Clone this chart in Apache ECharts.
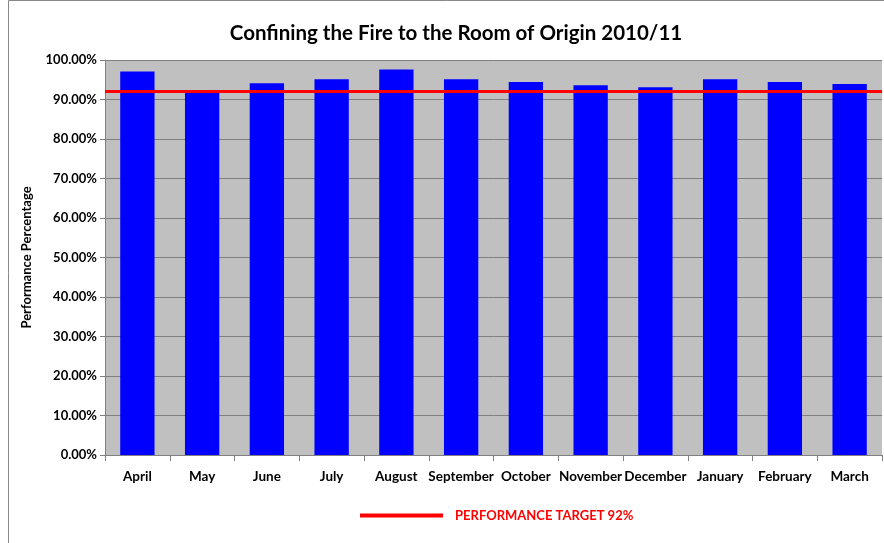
<!DOCTYPE html>
<html><head><meta charset="utf-8">
<script src="https://cdn.jsdelivr.net/npm/echarts@6/dist/echarts.min.js"></script>
<style>html,body{margin:0;padding:0;background:#fff}#c{width:884px;height:543px}</style>
</head><body><div id="c"></div>
<script>
const categories = ['April','May','June','July','August','September','October','November','December','January','February','March'];
const performance = [97.1, 91.8, 94.1, 95.1, 97.6, 95.1, 94.4, 93.6, 93.1, 95.1, 94.4, 93.9];
const targetValue = 92;
const targetName = 'PERFORMANCE TARGET 92%';
const yTicks = [0,10,20,30,40,50,60,70,80,90,100];

const FONT = 'Lato';
const chart = echarts.init(document.getElementById('c'));
chart.setOption({
  animation: false,
  backgroundColor: '#fff',
  title: {
    text: 'Confining the Fire to the Room of Origin 2010/11',
    left: 451, top: 18, textAlign: 'center',
    textStyle: {fontFamily: FONT, fontWeight: 'bold', fontSize: 20.5, color: '#000'}
  },
  graphic: [{
    type: 'rect', shape: {x: 8.5, y: 0.5, width: 890, height: 560},
    style: {fill: 'none', stroke: '#888', lineWidth: 1}, silent: true
  }],
  legend: {
    data: [{name: targetName, icon: 'rect'}],
    left: 355, top: 504,
    itemWidth: 83, itemHeight: 4, itemGap: 12,
    textStyle: {fontFamily: FONT, fontWeight: 'bold', fontSize: 13, color: '#ff0000', padding: [0, 0, 0, 7]}
  },
  grid: {left: 105, right: 2, top: 60, bottom: 88, show: true, backgroundColor: '#c0c0c0', borderWidth: 0},
  xAxis: {
    type: 'category', data: categories,
    axisLine: {lineStyle: {color: '#808080'}},
    axisTick: {show: true, length: 6, lineStyle: {color: '#808080'}},
    axisLabel: {fontFamily: FONT, fontWeight: 'bold', fontSize: 13.5, color: '#000', margin: 15, interval: 0}
  },
  yAxis: {
    type: 'value', min: 0, max: 100, interval: 10,
    name: 'Performance Percentage', nameLocation: 'middle', nameGap: 72, nameRotate: 90,
    nameTextStyle: {fontFamily: FONT, fontWeight: 'bold', fontSize: 13, color: '#000'},
    axisLine: {show: true, lineStyle: {color: '#808080'}},
    axisTick: {show: true, length: 5, lineStyle: {color: '#808080'}},
    splitLine: {lineStyle: {color: '#808080'}},
    axisLabel: {fontFamily: FONT, fontWeight: 'bold', fontSize: 13, color: '#000', margin: 8,
      formatter: v => v.toFixed(2) + '%'}
  },
  series: [{
    type: 'bar', name: 'Performance', data: performance,
    barWidth: '53%', itemStyle: {color: '#0000ff'}
  }, {
    type: 'line', name: targetName, data: [],
    itemStyle: {color: '#ff0000'}, lineStyle: {color: '#ff0000', width: 3},
    markLine: {
      silent: true, symbol: ['none','none'], label: {show: false},
      lineStyle: {color: '#ff0000', width: 3, type: 'solid'},
      data: [{yAxis: targetValue}]
    }
  }]
});
</script></body></html>
